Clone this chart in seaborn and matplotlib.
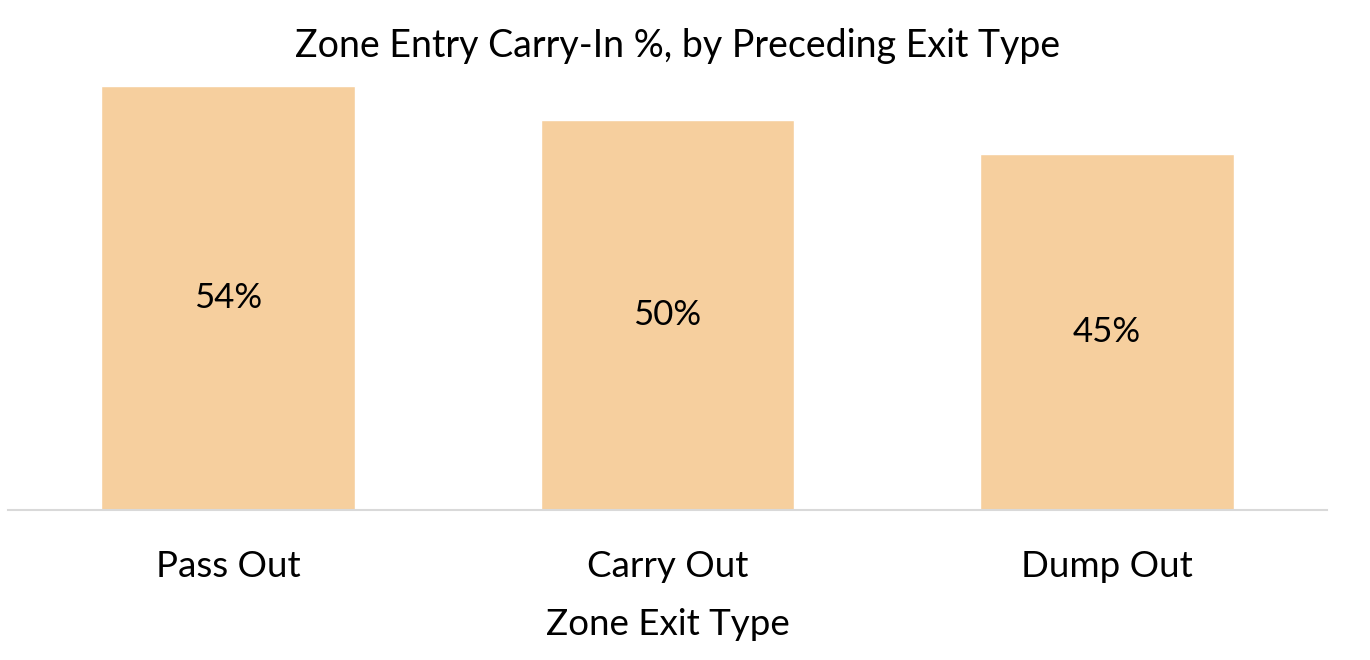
import matplotlib
matplotlib.use("Agg")
import matplotlib.pyplot as plt
import seaborn as sns
import pandas as pd

# data
exit_types = ["Pass Out", "Carry Out", "Dump Out"]
carry_in_pct = [0.540, 0.497, 0.454]

df = pd.DataFrame({"Exit": exit_types, "CarryIn": carry_in_pct})

sns.set_theme(style="white")
plt.rcParams["font.family"] = ["Lato", "DejaVu Sans"]

fig = plt.figure(figsize=(13.7, 6.6), dpi=100)
ax = fig.add_axes([8 / 1370, 1 - 510 / 660, 1319 / 1370, 471 / 660])

sns.barplot(data=df, x="Exit", y="CarryIn", color="#F6CF9E", saturation=1,
            width=0.577, ax=ax)

ax.set_xlim(-0.5, 2.5)
ax.set_ylim(0, 0.60)

# value labels in the middle of each bar
for i, v in enumerate(carry_in_pct):
    ax.text(i, v / 2, f"{v:.0%}", ha="center", va="center", fontsize=25, color="black")

ax.set_yticks([])
ax.set_ylabel("")
ax.set_xlabel("Zone Exit Type", fontsize=26.5, color="black", labelpad=18)
ax.tick_params(axis="x", labelsize=26.5, colors="black", length=0, pad=29)

for s in ["top", "right", "left"]:
    ax.spines[s].set_visible(False)
ax.spines["bottom"].set_color("#D9D9D9")
ax.spines["bottom"].set_linewidth(1.5)

fig.text(678 / 1370, 1 - 46 / 660, "Zone Entry Carry-In %, by Preceding Exit Type",
         ha="center", va="center", fontsize=27, color="black")

fig.savefig("out.png", dpi=100)
